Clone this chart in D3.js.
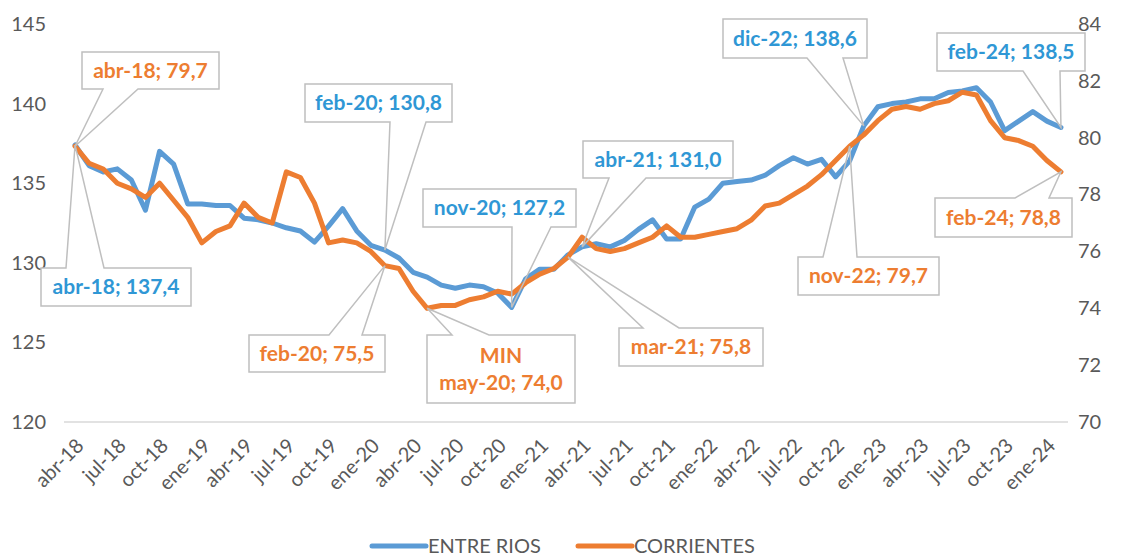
<!DOCTYPE html>
<html>
<head>
<meta charset="utf-8">
<script src="https://cdn.jsdelivr.net/npm/d3@7"></script>
<style>
  body { margin: 0; background: #fff; }
  svg { display: block; font-family: Lato, "Open Sans", sans-serif; }
</style>
</head>
<body>
<script>
// month names used for the category labels
const monthNames = ["ene","feb","mar","abr","may","jun","jul","ago","sep","oct","nov","dic"];

// categories: abr-18 .. feb-24
var months = [];
for (var yr = 2018; yr <= 2024; yr++) {
    for (var m = 0; m < 12; m++) {
        if (yr == 2018 && m < 3) continue;
        if (yr == 2024 && m > 1) continue;
        months.push(monthNames[m] + "-" + String(yr).slice(2));
    }
}

// ENTRE RIOS (left axis)
const entreRios = [
    137.4, 136.1, 135.7, 135.9, 135.2, 133.3, 137.0, 136.2, 133.7, 133.7,
    133.6, 133.6, 132.8, 132.7, 132.5, 132.2, 132.0, 131.3, 132.3, 133.4,
    132.0, 131.1, 130.8, 130.3, 129.4, 129.1, 128.6, 128.4, 128.6, 128.5,
    128.1, 127.2, 129.0, 129.6, 129.6, 130.5, 131.0, 131.2, 131.0, 131.4,
    132.1, 132.7, 131.5, 131.5, 133.5, 134.0, 135.0, 135.1, 135.2, 135.5,
    136.1, 136.6, 136.2, 136.5, 135.4, 136.4, 138.6, 139.8, 140.0, 140.1,
    140.3, 140.3, 140.7, 140.8, 141.0, 140.1, 138.3, 138.9, 139.5, 138.9,
    138.5
];

// CORRIENTES (right axis)
const corrientes = [
    79.7, 79.1, 78.9, 78.4, 78.2, 77.9, 78.4, 77.8, 77.2, 76.3,
    76.7, 76.9, 77.7, 77.2, 77.0, 78.8, 78.6, 77.7, 76.3, 76.4,
    76.3, 76.0, 75.5, 75.4, 74.6, 74.0, 74.1, 74.1, 74.3, 74.4,
    74.6, 74.5, 74.9, 75.2, 75.4, 75.8, 76.5, 76.1, 76.0, 76.1,
    76.3, 76.5, 76.9, 76.5, 76.5, 76.6, 76.7, 76.8, 77.1, 77.6,
    77.7, 78.0, 78.3, 78.7, 79.2, 79.7, 80.1, 80.6, 81.0, 81.1,
    81.0, 81.2, 81.3, 81.6, 81.5, 80.6, 80.0, 79.9, 79.7, 79.2,
    78.8
];

const leftTicks = [120, 125, 130, 135, 140, 145];
const rightTicks = [70, 72, 74, 76, 78, 80, 82, 84];

const blue = "#5b9bd5", orange = "#ed7d31";
const blueText = "#2f97d5";

var svg = d3.select("body")
    .append("svg")
    .attr("width", 1121)
    .attr("height", 559);

var x = d3.scaleBand()
    .domain(months)
    .range([68, 1068]);

var yL = d3.scaleLinear().domain([120, 145]).range([422, 24]);
var yR = d3.scaleLinear().domain([70, 84]).range([422, 24]);

var cx = d => x(d) + x.bandwidth() / 2;

// bottom gridline
svg.append("line")
    .attr("x1", 64).attr("x2", 1068)
    .attr("y1", yL(120)).attr("y2", yL(120))
    .attr("stroke", "#d9d9d9")
    .attr("stroke-width", 1.5);

// left axis
var leftAxis = svg.append("g")
    .attr("transform", "translate(46,0)")
    .call(d3.axisLeft(yL).tickValues(leftTicks).tickSize(0).tickPadding(0));
leftAxis.select(".domain").remove();
leftAxis.selectAll("text")
    .attr("font-size", "20px")
    .attr("font-family", "Lato, sans-serif")
    .attr("fill", "#595959");

// right axis
var rightAxis = svg.append("g")
    .attr("transform", "translate(1078,0)")
    .call(d3.axisRight(yR).tickValues(rightTicks).tickSize(0).tickPadding(0));
rightAxis.select(".domain").remove();
rightAxis.selectAll("text")
    .attr("font-size", "20px")
    .attr("font-family", "Lato, sans-serif")
    .attr("fill", "#595959");

// x labels, every 3 months, rotated
svg.append("g")
    .selectAll("text")
    .data(months.filter((d, i) => i % 3 == 0))
    .enter()
    .append("text")
        .text(d => d)
        .attr("transform", d => "translate(" + (cx(d) + 5) + ",442) rotate(-45)")
        .attr("text-anchor", "end")
        .attr("dy", "0.35em")
        .attr("font-size", "20px")
        .attr("fill", "#595959");

// lines
var lineL = d3.line().x((d, i) => cx(months[i])).y(d => yL(d));
var lineR = d3.line().x((d, i) => cx(months[i])).y(d => yR(d));

svg.append("path")
    .datum(entreRios)
    .attr("d", lineL)
    .attr("fill", "none")
    .attr("stroke", blue)
    .attr("stroke-width", 5)
    .attr("stroke-linejoin", "round")
    .attr("stroke-linecap", "round");

svg.append("path")
    .datum(corrientes)
    .attr("d", lineR)
    .attr("fill", "none")
    .attr("stroke", orange)
    .attr("stroke-width", 5)
    .attr("stroke-linejoin", "round")
    .attr("stroke-linecap", "round");

// #region CALLOUTS
var fmt = v => d3.format(".1f")(v).replace(".", ",");

// box: [x0, y0, x1, y1], side of wedge, wedge base [a, b]
var callouts = [
    {i: 0,  s: "R", box: [82, 52, 219, 89],     side: "bottom", base: [103, 138]},
    {i: 0,  s: "L", box: [41, 268, 191, 306],   side: "top",    base: [66, 104]},
    {i: 22, s: "L", box: [305, 84, 452, 122],   side: "bottom", base: [390, 426]},
    {i: 22, s: "R", box: [249, 335, 385, 372],  side: "top",    base: [329, 362]},
    {i: 25, s: "R", box: [427, 335, 575, 403],  side: "top",    base: [452, 489], min: true},
    {i: 31, s: "L", box: [423, 189, 576, 227],  side: "bottom", base: [512, 551]},
    {i: 36, s: "L", box: [583, 141, 733, 178],  side: "bottom", base: [609, 646]},
    {i: 35, s: "R", box: [619, 328, 763, 366],  side: "top",    base: [643, 679]},
    {i: 55, s: "R", box: [798, 257, 939, 295],  side: "top",    base: [823, 857]},
    {i: 56, s: "L", box: [723, 19, 867, 58],    side: "bottom", base: [807, 843]},
    {i: 70, s: "L", box: [937, 33, 1085, 71],   side: "bottom", base: [1023, 1060]},
    {i: 70, s: "R", box: [935, 198, 1072, 237], side: "top",    base: [1015, 1049]}
];

var calloutG = svg.append("g");

callouts.forEach(function(c) {
    var px = cx(months[c.i]);
    var val = c.s == "L" ? entreRios[c.i] : corrientes[c.i];
    var py = c.s == "L" ? yL(val) : yR(val);
    var [x0, y0, x1, y1] = c.box;
    var [a, b] = c.base;
    var p;
    if (c.side == "top") {
        p = [[x0, y0], [a, y0], [px, py], [b, y0], [x1, y0], [x1, y1], [x0, y1]];
    } else {
        p = [[x0, y0], [x1, y0], [x1, y1], [b, y1], [px, py], [a, y1], [x0, y1]];
    }
    // white box, wedge left open so the lines show through
    calloutG.append("rect")
        .attr("x", x0).attr("y", y0)
        .attr("width", x1 - x0).attr("height", y1 - y0)
        .attr("fill", "#fff");
    calloutG.append("path")
        .attr("d", "M" + p.join("L") + "Z")
        .attr("fill", "none")
        .attr("stroke", "#bfbfbf")
        .attr("stroke-width", 1.5);

    var lines = [months[c.i] + "; " + fmt(val)];
    if (c.min) lines.unshift("MIN");
    var midY = (y0 + y1) / 2;
    var lh = 27;
    lines.forEach(function(t, k) {
        calloutG.append("text")
            .text(t)
            .attr("x", (x0 + x1) / 2)
            .attr("y", midY + (k - (lines.length - 1) / 2) * lh)
            .attr("dy", "0.35em")
            .attr("text-anchor", "middle")
            .attr("font-size", "21px")
            .attr("font-weight", "bold")
            .attr("fill", c.s == "L" ? blueText : orange);
    });
});
// #endregion

// legend
var legend = svg.append("g");
var legendItems = [
    {name: "ENTRE RIOS", color: blue, x: 372},
    {name: "CORRIENTES", color: orange, x: 578}
];
legendItems.forEach(function(d) {
    legend.append("line")
        .attr("x1", d.x).attr("x2", d.x + 54)
        .attr("y1", 546).attr("y2", 546)
        .attr("stroke", d.color)
        .attr("stroke-width", 5)
        .attr("stroke-linecap", "round");
    legend.append("text")
        .text(d.name)
        .attr("x", d.x + 56)
        .attr("y", 546)
        .attr("dy", "0.35em")
        .attr("font-size", "20px")
        .attr("fill", "#595959");
});
</script>
</body>
</html>
